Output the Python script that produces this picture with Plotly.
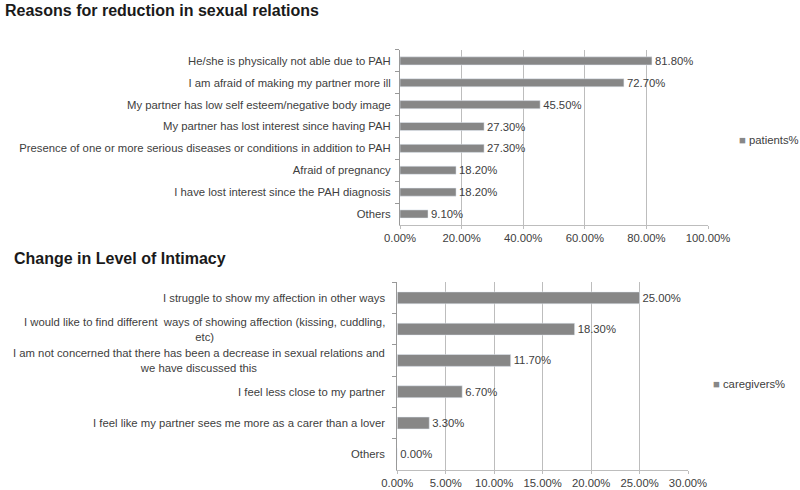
import plotly.graph_objects as go

# top panel: patients
reasons = [
    "He/she is physically not able due to PAH",
    "I am afraid of making my partner more ill",
    "My partner has low self esteem/negative body image",
    "My partner has lost interest since having PAH",
    "Presence of one or more serious diseases or conditions in addition to PAH",
    "Afraid of pregnancy",
    "I have lost interest since the PAH diagnosis",
    "Others",
]
patients_pct = [81.8, 72.7, 45.5, 27.3, 27.3, 18.2, 18.2, 9.1]

# bottom panel: caregivers
intimacy = [
    "I struggle to show my affection in other ways",
    "I would like to find different  ways of showing affection (kissing, cuddling,<br>etc)",
    "I am not concerned that there has been a decrease in sexual relations and<br>we have discussed this",
    "I feel less close to my partner",
    "I feel like my partner sees me more as a carer than a lover",
    "Others",
]
caregivers_pct = [25.0, 18.3, 11.7, 6.7, 3.3, 0.0]

BAR = "#878787"
TXT = "#404040"
GRID = "#bdbdbd"
FONT = "Liberation Sans, Arial, sans-serif"
FS = 11.3

fig = go.Figure()
fig.add_trace(go.Bar(x=patients_pct, y=reasons, orientation="h", name="patients%",
                     marker_color=BAR, width=0.37, xaxis="x", yaxis="y",
                     text=[f"{v:.2f}%" for v in patients_pct], textposition="outside",
                     textfont=dict(size=FS, color=TXT), cliponaxis=False))
fig.add_trace(go.Bar(x=caregivers_pct, y=intimacy, orientation="h", name="caregivers%",
                     marker_color=BAR, width=0.38, xaxis="x2", yaxis="y2",
                     text=[f"{v:.2f}%" for v in caregivers_pct], textposition="outside",
                     textfont=dict(size=FS, color=TXT), cliponaxis=False))

xcommon = dict(showgrid=True, gridcolor=GRID, gridwidth=1, zeroline=False,
               showline=True, linecolor=GRID, ticks="outside", ticklen=3, tickcolor=GRID,
               ticksuffix="%", tickformat=".2f", tickfont=dict(size=FS, color=TXT),
               automargin=False, fixedrange=True)
ycommon = dict(type="category", autorange="reversed", showline=True, linecolor="#999999",
               ticks="outside", tickson="boundaries", ticklen=4, tickcolor="#999999",
               ticklabelstandoff=6, tickfont=dict(size=FS, color=TXT), showgrid=False,
               automargin=False, fixedrange=True)

# bottom category labels as centred multi-line annotations (Excel-style wrapping)
cat_labels = [dict(text=c, x=0, y=c, xref="x2 domain", yref="y2", xanchor="right",
                   yanchor="middle", xshift=-10, align="center", showarrow=False,
                   font=dict(size=FS, color=TXT, family=FONT)) for c in intimacy]

fig.update_layout(
    width=800, height=490,
    margin=dict(l=0, r=0, t=0, b=0, autoexpand=False),
    paper_bgcolor="white", plot_bgcolor="white",
    font=dict(family=FONT, color=TXT),
    showlegend=False,
    uniformtext=dict(minsize=FS, mode="show"),
    xaxis=dict(domain=[0.5, 0.885], range=[0, 100], dtick=20, anchor="y", **xcommon),
    yaxis=dict(domain=[0.541, 0.898], anchor="x", **ycommon),
    xaxis2=dict(domain=[0.4966, 0.86], range=[0, 30], dtick=5, anchor="y2", **xcommon),
    yaxis2=dict(domain=[0.041, 0.424], anchor="x2", showticklabels=False, **ycommon),
    annotations=[
        dict(text="<b>Reasons for reduction in sexual relations</b>", x=0.004, y=1 - 10 / 490,
             xref="paper", yref="paper", xanchor="left", yanchor="middle",
             showarrow=False, font=dict(size=16, color="#1a1a1a", family=FONT)),
        dict(text="<b>Change in Level of Intimacy</b>", x=0.015, y=1 - 258 / 490,
             xref="paper", yref="paper", xanchor="left", yanchor="middle",
             showarrow=False, font=dict(size=16, color="#1a1a1a", family=FONT)),
        dict(text=f"<span style='color:{BAR}'>■</span> patients%", x=737 / 800, y=1 - 140 / 490,
             xref="paper", yref="paper", xanchor="left", yanchor="middle",
             showarrow=False, font=dict(size=FS, color=TXT, family=FONT)),
        dict(text=f"<span style='color:{BAR}'>■</span> caregivers%", x=711 / 800, y=1 - 384 / 490,
             xref="paper", yref="paper", xanchor="left", yanchor="middle",
             showarrow=False, font=dict(size=FS, color=TXT, family=FONT)),
    ] + cat_labels,
)

# the page body has a default margin; drop it so the figure fills the window
fig.write_html("out.html", config={"displayModeBar": False},
               post_script="document.body.style.margin='0';")
